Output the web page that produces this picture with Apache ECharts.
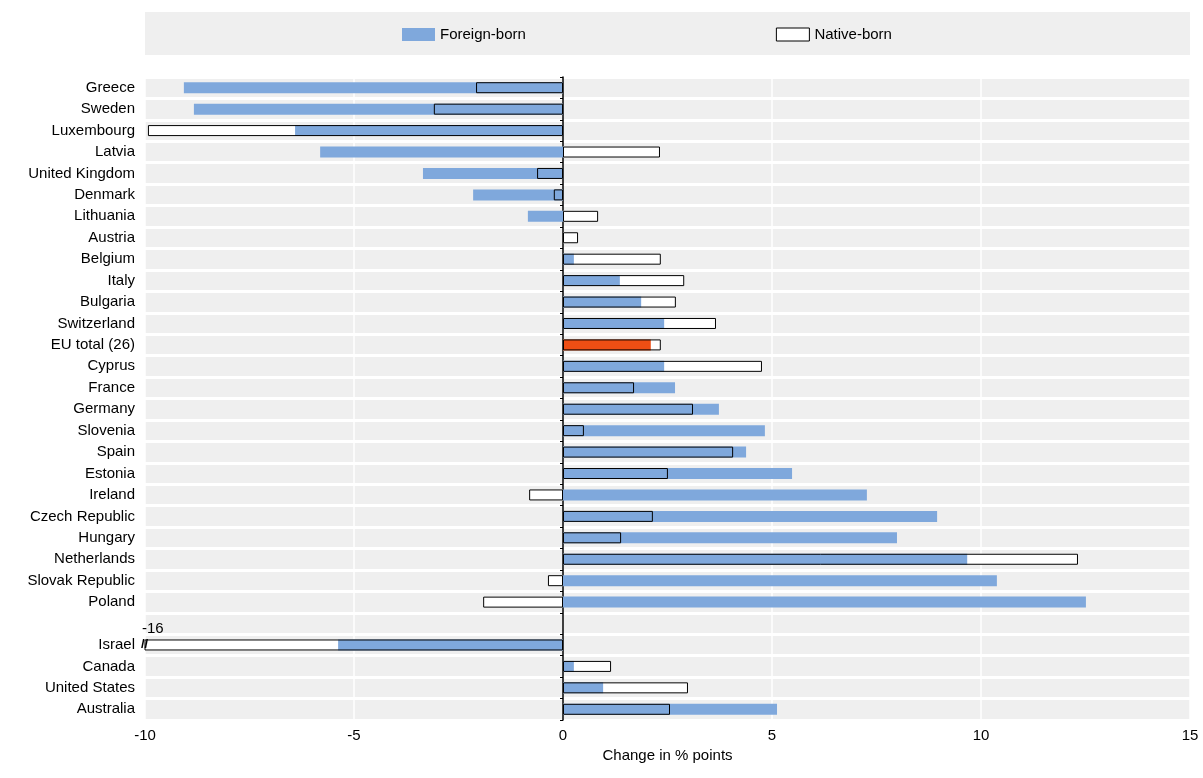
<!DOCTYPE html>
<html><head><meta charset="utf-8">
<script src="https://cdn.jsdelivr.net/npm/echarts@6/dist/echarts.min.js"></script>
<style>body{margin:0}#c{width:1203px;height:778px}</style></head>
<body><div id="c"></div>
<script>
var countries=['Greece','Sweden','Luxembourg','Latvia','United Kingdom','Denmark','Lithuania','Austria','Belgium','Italy','Bulgaria','Switzerland','EU total (26)','Cyprus','France','Germany','Slovenia','Spain','Estonia','Ireland','Czech Republic','Hungary','Netherlands','Slovak Republic','Poland','','Israel','Canada','United States','Australia'];
var foreignBorn=[-9.07,-8.83,-6.41,-5.81,-3.35,-2.15,-0.84,0,0.26,1.36,1.87,2.42,2.1,2.42,2.68,3.73,4.83,4.38,5.48,7.27,8.95,7.99,9.67,10.38,12.51,null,-5.38,0.26,0.96,5.12];
var nativeBorn=[-2.08,-3.09,-9.93,2.32,-0.62,-0.22,0.84,0.36,2.34,2.9,2.7,3.66,2.34,4.76,1.7,3.11,0.5,4.07,2.51,-0.81,2.15,1.39,12.32,-0.36,-1.91,null,-16,1.15,2.99,2.56];
var xTicks=[-10,-5,0,5,10,15];

var blue='#7fa8dc', orange='#ee4e14';
var fb=foreignBorn.map(function(v,i){
  return countries[i]==='EU total (26)'?{value:v,itemStyle:{color:orange}}:v;
});
var chart=echarts.init(document.getElementById('c'));
var font='Liberation Sans';
chart.setOption({
  textStyle:{fontFamily:font},
  graphic:[
    {type:'rect',left:145,top:12,shape:{width:1045,height:43},style:{fill:'#efefef'},z:-10},
    {type:'text',x:142,y:621,z:100,style:{text:'-16',fill:'#000',fontSize:15,fontFamily:font}},
    {type:'text',x:141,y:638,z:100,style:{text:'//',fill:'#000',fontSize:13,fontWeight:'bold',fontFamily:font}}
  ],
  legend:{top:22,left:397,itemGap:250,itemWidth:33,itemHeight:13,icon:'rect',
    textStyle:{fontSize:15,color:'#000',fontFamily:font},
    data:[{name:'Foreign-born',itemStyle:{color:blue}},
          {name:'Native-born',itemStyle:{color:'#fff',borderColor:'#000',borderWidth:1}}]},
  grid:{left:145,right:13,top:77,bottom:58},
  xAxis:{type:'value',min:-10,max:15,interval:5,position:'bottom',
    name:'Change in % points',nameLocation:'middle',nameGap:23,
    nameTextStyle:{fontSize:15,color:'#000'},
    axisLabel:{fontSize:15,color:'#000',formatter:function(v){return xTicks.indexOf(v)>=0?v:'';}},
    axisLine:{show:false},axisTick:{show:false},
    splitLine:{show:true,lineStyle:{color:'#fff',width:1.5}}},
  yAxis:{type:'category',inverse:true,data:countries,
    axisLabel:{fontSize:15,color:'#000',margin:10},
    axisLine:{show:true,onZero:true,lineStyle:{color:'#000',width:1.5}},
    axisTick:{show:true,length:3,inside:false,lineStyle:{color:'#000'}},
    splitArea:{show:true,areaStyle:{color:['#efefef','#efefef']}},
    splitLine:{show:true,lineStyle:{color:'#fff',width:3}}},
  series:[
    {name:'Native-born',type:'bar',data:nativeBorn,barWidth:11,barGap:'-100%',
      itemStyle:{color:'#fff'},z:2},
    {name:'Foreign-born',type:'bar',data:fb,barWidth:11,barGap:'-100%',
      itemStyle:{color:blue},z:3},
    {name:'Native-born',type:'bar',data:nativeBorn,barWidth:11,barGap:'-100%',
      itemStyle:{color:'rgba(0,0,0,0)',borderColor:'#000',borderWidth:1},z:4}
  ]
});
</script></body></html>
